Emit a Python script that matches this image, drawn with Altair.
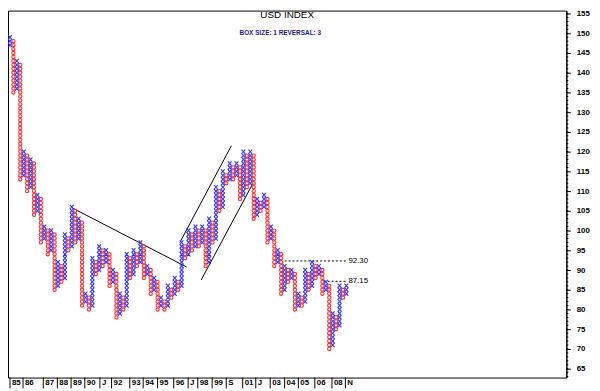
import altair as alt
import pandas as pd

# ---------------- data ----------------
title_text = "USD INDEX"
subtitle_text = "BOX SIZE: 1 REVERSAL: 3"

# Point & figure columns alternate X (rising) / O (falling), starting with X.
# Each value is the column's extreme: top box for an X column, bottom box for an O column.
first_low = 147
col_extremes = [149, 135, 143, 113, 120, 110, 118, 104, 109, 97,
                101, 94, 100, 85, 92, 87, 99, 95, 106, 97,
                103, 81, 84, 80, 93, 89, 96, 91, 95, 86,
                90, 78, 84, 80, 94, 88, 95, 91, 97, 88,
                91, 84, 88, 80, 83, 80, 86, 83, 88, 85,
                97, 93, 100, 95, 101, 96, 101, 91, 103, 97,
                111, 105, 115, 112, 117, 113, 117, 108, 120, 111,
                120, 103, 108, 105, 109, 97, 101, 91, 95, 84,
                91, 87, 90, 80, 84, 81, 90, 85, 92, 88,
                91, 84, 87, 70, 79, 75, 86, 83, 86]

# bottom axis: tick positions (in column units) and labels
xtick_pos = [0, 3.8, 9.7, 13.8, 17.8, 21.8, 26.2, 29.6, 34.9, 38.8, 43, 47.7,
             51.9, 54.7, 58.9, 63, 67.8, 71.6, 75.8, 80, 84, 88.8, 93.8, 97.7]
xtick_lab = ["85", "86", "87", "88", "89", "90", "J", "92", "93", "94", "95", "96",
             "J", "98", "99", "S", "01", "J", "03", "04", "05", "06", "08", "N"]

# trend lines (column, price) -> (column, price)
trend_x1 = [18.1, 49.5, 55.7]
trend_y1 = [105.75, 97.0, 87.5]
trend_x2 = [51.5, 64.5, 70.8]
trend_y2 = [90.75, 121.5, 112.0]

# horizontal dotted levels
level_price = [92.30, 87.15]
level_label = ["92.30", "87.15"]
level_start = [80.0, 91.4]
level_end = [98.3, 98.3]

y_major = list(range(65, 160, 5))
y_minor = list(range(63, 156))

# ---------------- build boxes ----------------
rows = []
for k, ext in enumerate(col_extremes):
    if k % 2 == 0:
        kind = "X"
        lo = first_low if k == 0 else col_extremes[k - 1] + 1
        hi = ext
    else:
        kind = "O"
        hi = col_extremes[k - 1] - 1
        lo = ext
    for p in range(lo, hi + 1):
        rows.append({"col": k, "price": p, "kind": kind})
boxes = pd.DataFrame(rows)

W, H = 566, 372
xscale = alt.Scale(domain=[-0.575, 162.07], nice=False, zero=False)
yscale = alt.Scale(domain=[62.75, 155.75], nice=False, zero=False)

FONT = "Liberation Sans"

yaxis = alt.Axis(orient="right", values=y_major, tickSize=4, labelPadding=6,
                 labelFontSize=8, labelFont=FONT, labelFontWeight="bold",
                 labelColor="black", domainColor="black", tickColor="black",
                 grid=False, title=None, labelBaseline="middle")

x_path = "M-0.9,-1L0.9,1M-0.9,1L0.9,-1"

xs = alt.Chart(boxes).transform_filter(alt.datum.kind == "X").mark_point(
    shape=x_path, filled=False, size=18, strokeWidth=1.1, color="#3030ff", opacity=1
).encode(
    x=alt.X("col:Q", scale=xscale, axis=None),
    y=alt.Y("price:Q", scale=yscale, axis=yaxis),
)

os_ = alt.Chart(boxes).transform_filter(alt.datum.kind == "O").mark_point(
    shape="circle", filled=False, size=11, strokeWidth=1.1, color="#ff3030", opacity=1
).encode(
    x=alt.X("col:Q", scale=xscale, axis=None),
    y=alt.Y("price:Q", scale=yscale, axis=yaxis),
)

trend_df = pd.DataFrame({"x1": trend_x1, "y1": trend_y1, "x2": trend_x2, "y2": trend_y2})
trends = alt.Chart(trend_df).mark_rule(color="black", strokeWidth=1).encode(
    x=alt.X("x1:Q", scale=xscale, axis=None),
    y=alt.Y("y1:Q", scale=yscale, axis=yaxis),
    x2="x2:Q", y2="y2:Q",
)

lev_df = pd.DataFrame({"p": level_price, "lab": level_label, "s": level_start, "e": level_end})
levels = alt.Chart(lev_df).mark_rule(color="black", strokeWidth=1, strokeDash=[2, 2]).encode(
    x=alt.X("s:Q", scale=xscale, axis=None), x2="e:Q",
    y=alt.Y("p:Q", scale=yscale, axis=yaxis),
)
lev_text = alt.Chart(lev_df).mark_text(align="left", baseline="middle", dx=1,
                                       font=FONT, fontSize=8, color="black").encode(
    x=alt.X("e:Q", scale=xscale, axis=None),
    y=alt.Y("p:Q", scale=yscale, axis=yaxis),
    text="lab:N",
)

minor_df = pd.DataFrame({"p": y_minor})
minor = alt.Chart(minor_df).mark_rule(color="black", strokeWidth=1).encode(
    x=alt.value(W), x2=alt.value(W + 2),
    y=alt.Y("p:Q", scale=yscale, axis=yaxis),
)

xt_df = pd.DataFrame({"pos": xtick_pos, "lab": xtick_lab})
xticks = alt.Chart(xt_df).mark_rule(color="black", strokeWidth=1).encode(
    x=alt.X("pos:Q", scale=xscale, axis=None),
    y=alt.value(H), y2=alt.value(H + 11),
)
xlabels = alt.Chart(xt_df).mark_text(align="left", baseline="top", dx=2, dy=2,
                                     font=FONT, fontSize=8, fontWeight="bold",
                                     color="black").encode(
    x=alt.X("pos:Q", scale=xscale, axis=None),
    y=alt.value(H),
    text="lab:N",
)

t_df = pd.DataFrame({"t": [title_text]})
title = alt.Chart(t_df).mark_text(align="center", baseline="middle", font=FONT,
                                  fontSize=10, color="black").encode(
    text="t:N", x=alt.value(283), y=alt.value(5))
s_df = pd.DataFrame({"t": [subtitle_text]})
subtitle = alt.Chart(s_df).mark_text(align="center", baseline="middle", font=FONT,
                                     fontSize=6.5, fontWeight="bold", color="#1c1c8c").encode(
    text="t:N", x=alt.value(276), y=alt.value(22.5))

chart = alt.layer(
    minor, trends, levels, lev_text, os_, xs, xticks, xlabels, title, subtitle
).properties(
    width=W, height=H,
    autosize=alt.AutoSizeParams(type="none"),
    padding={"left": 0, "top": 0, "right": 26, "bottom": 11},
).configure_view(
    stroke="black", strokeWidth=1
)

chart.save("out.html", embed_options={"renderer": "svg", "actions": False})
